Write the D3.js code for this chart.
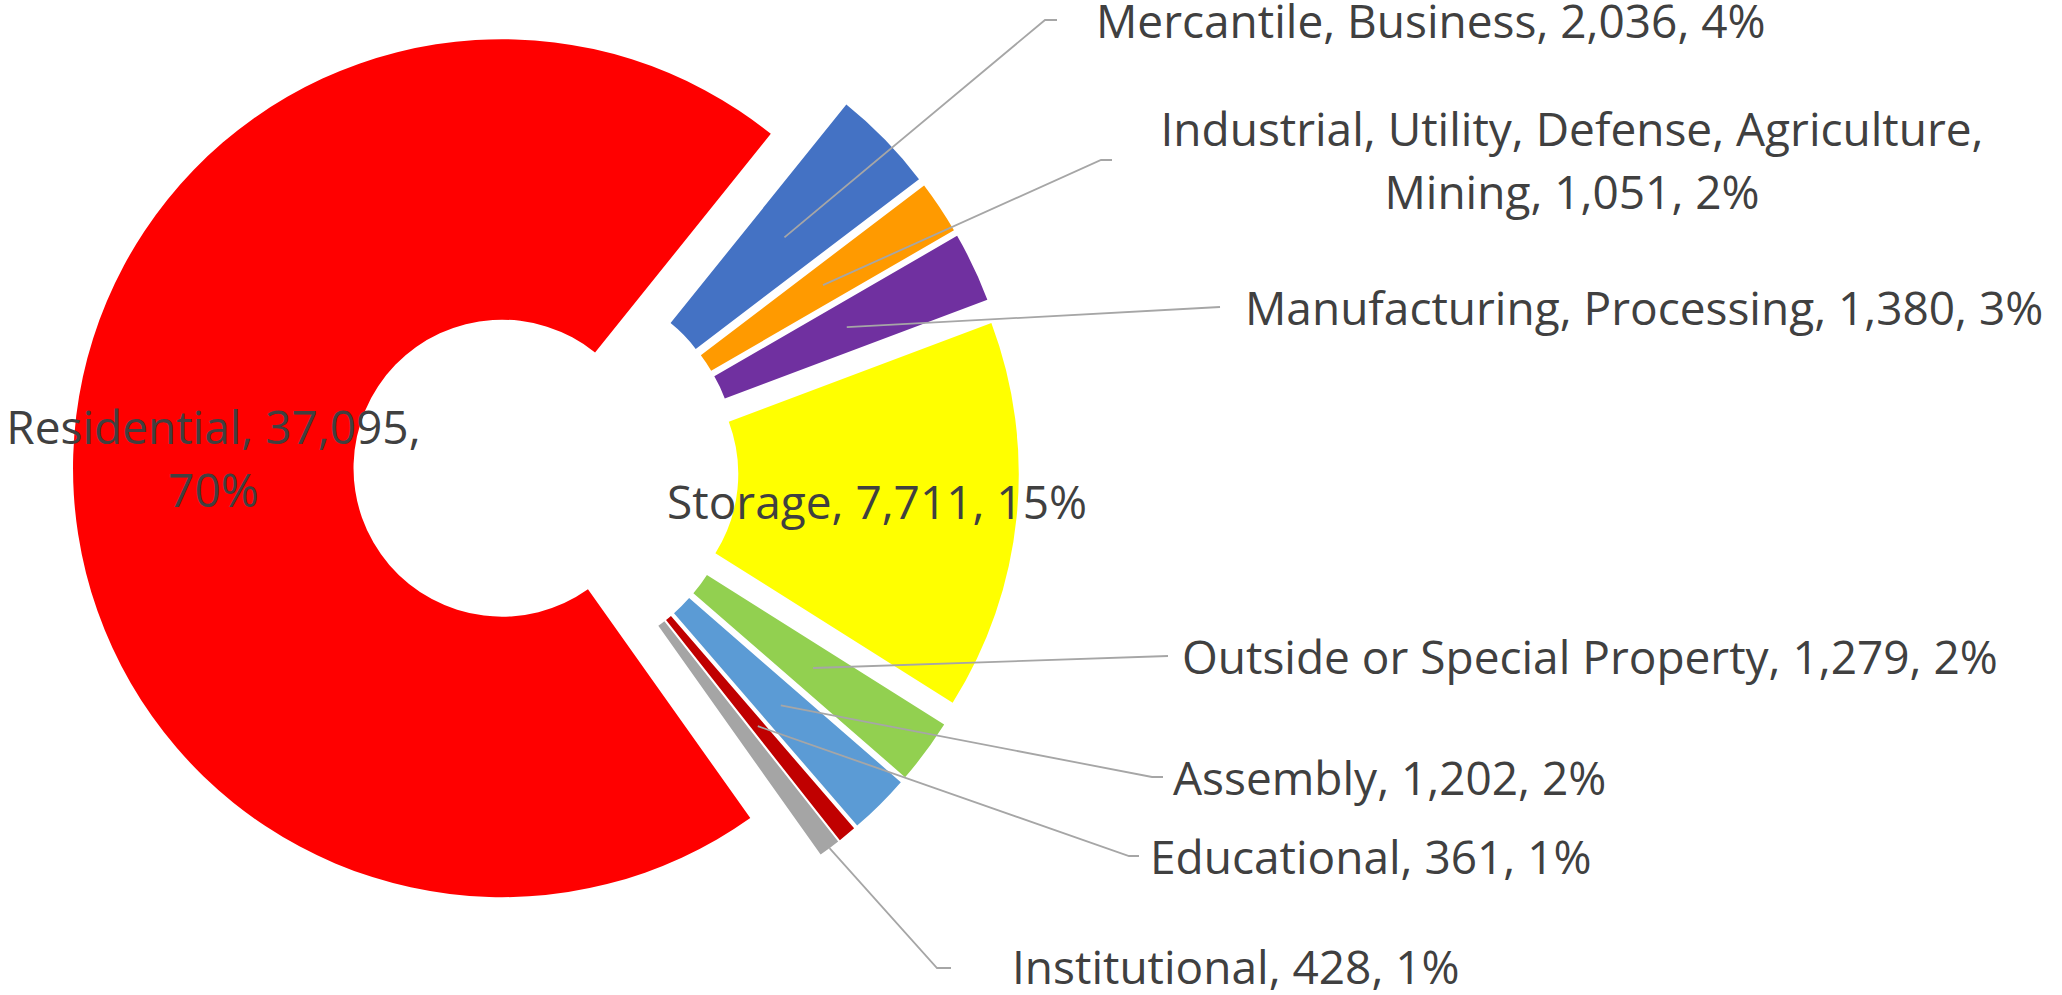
<!DOCTYPE html>
<html>
<head>
<meta charset="utf-8">
<script src="https://cdn.jsdelivr.net/npm/d3@7"></script>
<style>
  body { margin: 0; background: #fff; }
  svg { display: block; }
</style>
</head>
<body>
<div id="chart_donut"></div>
<script>
// property use, in the order the slices go round (clockwise)
const categories = ["Assembly", "Educational", "Institutional", "Residential",
  "Mercantile, Business", "Industrial, Utility, Defense, Agriculture, Mining",
  "Manufacturing, Processing", "Storage", "Outside or Special Property"];
const counts = [1202, 361, 428, 37095, 2036, 1051, 1380, 7711, 1279];
const percents = ["2%", "1%", "1%", "70%", "4%", "2%", "3%", "15%", "2%"];
const colors = ["#5B9BD5", "#C00000", "#A5A5A5", "#FF0000", "#4472C4",
  "#FF9A00", "#7030A0", "#FFFF00", "#92D050"];

// where the outside labels sit (text x / first baseline, leader elbow and end)
const callouts = {
  "Assembly": { x: 1173, y: 795, elbow: [1152, 777], end: [1163, 777] },
  "Educational": { x: 1150, y: 874, elbow: [1129, 856], end: [1139, 856] },
  "Institutional": { x: 1012, y: 984, elbow: [937, 968], end: [951, 968], fromOuter: true },
  "Mercantile, Business": { x: 1096, y: 38, elbow: [1045, 20], end: [1057, 20] },
  "Industrial, Utility, Defense, Agriculture, Mining": { x: 1572, y: 146, anchor: "middle", wrap: 4, elbow: [1101, 160], end: [1112, 160] },
  "Manufacturing, Processing": { x: 1245, y: 325, elbow: [1220, 307], end: [1220, 307] },
  "Outside or Special Property": { x: 1182, y: 674, elbow: [1168, 656], end: [1168, 656] }
};
const insideWrap = { "Residential": 2 };

(function donut() {

  let width = 2062,
    height = 995,
    cx = 546, cy = 469.5,
    outer = 429, inner = 148.5,
    explode = 44,
    firstAngle = 131,
    fontSize = 46,
    lineGap = 63;

  const svg = d3.select("#chart_donut")
    .append("svg")
    .attr("width", width)
    .attr("height", height)
    .attr("viewBox", [0, 0, width, height]);

  const fmt = d3.format(",");
  const rad = a => a * Math.PI / 180;

  let data = categories.map((c, i) => ({ name: c, count: counts[i], pct: percents[i], color: colors[i] }));

  const pie = d3.pie()
    .sort(null)
    .value(d => d.count)
    .startAngle(rad(firstAngle))
    .endAngle(rad(firstAngle + 360));

  const arc = d3.arc()
    .innerRadius(inner)
    .outerRadius(outer);

  const arcs = pie(data);

  function shift(a) {
    let m = (a.startAngle + a.endAngle) / 2;
    return [Math.sin(m) * explode, -Math.cos(m) * explode];
  }

  const g = svg.append("g")
    .attr("transform", `translate(${cx},${cy})`);

  g.selectAll("path")
    .data(arcs)
    .join("path")
    .attr("d", arc)
    .attr("fill", d => d.data.color)
    .attr("transform", d => `translate(${shift(d)})`);

  function lines(d, wrap) {
    let words = `${d.name}, ${fmt(d.count)}, ${d.pct}`.split(" ");
    if (!wrap) return [words.join(" ")];
    return [words.slice(0, wrap).join(" "), words.slice(wrap).join(" ")];
  }

  const labels = svg.append("g")
    .attr("font-family", "'Open Sans', 'Segoe UI', sans-serif")
    .attr("font-size", fontSize)
    .attr("fill", "#404040");

  for (let a of arcs) {
    let d = a.data;
    let s = shift(a);
    let co = callouts[d.name];

    if (!co) {
      // label inside the slice, on its centroid
      let c = arc.centroid(a);
      let x = cx + s[0] + c[0], y = cy + s[1] + c[1];
      let ls = lines(d, insideWrap[d.name]);
      let t = labels.append("text").attr("text-anchor", "middle");
      ls.forEach((l, i) => {
        t.append("tspan")
          .attr("x", x)
          .attr("y", y + 16 - (ls.length - 1) * lineGap / 2 + i * lineGap)
          .text(l);
      });
      continue;
    }

    // leader line from the slice to the label
    let m = (a.startAngle + a.endAngle) / 2;
    let r0 = co.fromOuter ? outer : (inner + outer) / 2;
    let p0 = [cx + s[0] + Math.sin(m) * r0, cy + s[1] - Math.cos(m) * r0];

    svg.insert("path", "g:last-of-type")
      .attr("d", d3.line()([p0, co.elbow, co.end]))
      .attr("fill", "none")
      .attr("stroke", "#A6A6A6")
      .attr("stroke-width", 1.8);

    let ls = lines(d, co.wrap);
    let t = labels.append("text").attr("text-anchor", co.anchor || "start");
    ls.forEach((l, i) => {
      t.append("tspan")
        .attr("x", co.x)
        .attr("y", co.y + i * lineGap)
        .text(l);
    });
  }

})();
</script>
</body>
</html>
